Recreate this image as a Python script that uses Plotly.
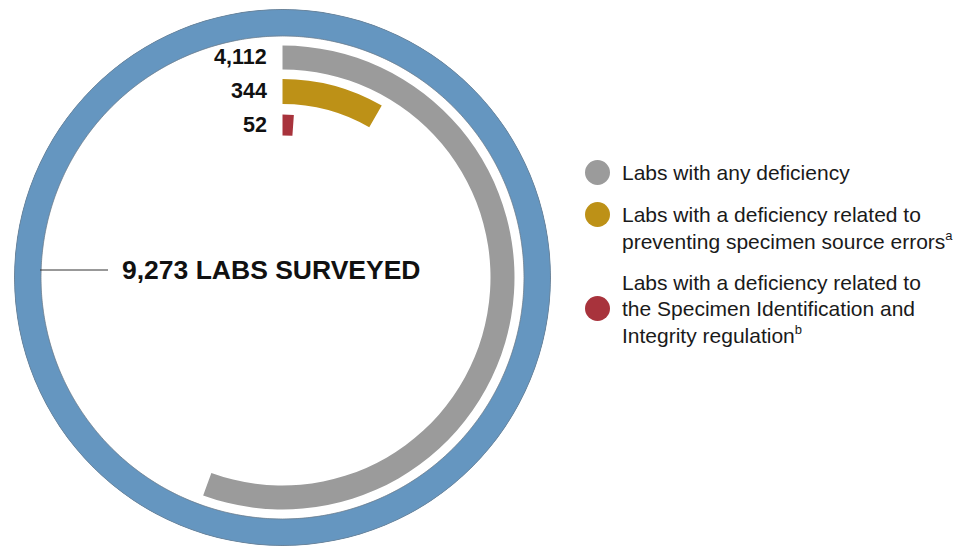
import numpy as np
import plotly.graph_objects as go

# ---- data ----
total_labs = 9273
total_label = "9,273 LABS SURVEYED"
series_names = [
    "Labs with any deficiency",
    "Labs with a deficiency related to preventing specimen source errors",
    "Labs with a deficiency related to the Specimen Identification and Integrity regulation",
]
series_values = [4112, 344, 52]
value_labels = ["4,112", "344", "52"]
# arc extent of each ring as drawn in the picture (degrees, clockwise from 12 o'clock)
arc_degrees = [200, 30, 4]
legend_lines = [
    ["Labs with any deficiency"],
    ["Labs with a deficiency related to",
     "preventing specimen source errors<sup><span style='font-size:13px'>a</span></sup>"],
    ["Labs with a deficiency related to", "the Specimen Identification and",
     "Integrity regulation<sup><span style='font-size:13px'>b</span></sup>"],
]

# ---- styling / layout ----
W, H = 973, 546
BLUE = "#6596C0"
colors = ["#9B9B9B", "#BD9117", "#A8333C"]
FONT = "Liberation Sans, Arial, sans-serif"

cx, cy, R = 282.5, 277.5, 268.5          # pixel centre and radius of the polar area
ring_base = [208, 173.5, 142]             # inner radius of each arc (px units)
ring_thick = [24, 25, 21]
blue_base, blue_thick = 241.5, 27


def px(x):
    return x / W


def py(y):
    return 1 - y / H


fig = go.Figure()

# outer ring: all labs surveyed
fig.add_trace(go.Barpolar(
    r=[blue_thick], base=[blue_base], theta=[180], width=[360],
    marker=dict(color=BLUE, line=dict(width=0)),
    name=total_label, showlegend=False, hoverinfo="skip",
))
# thin outline of the outer ring
circle_theta = np.linspace(0, 360, 721)
for rr in (blue_base, blue_base + blue_thick - 0.5):
    fig.add_trace(go.Scatterpolar(
        r=np.full_like(circle_theta, rr), theta=circle_theta, mode="lines",
        line=dict(color="#6f7f8e", width=0.8), showlegend=False, hoverinfo="skip",
    ))

for name, val, deg, base, thick, col in zip(series_names, series_values, arc_degrees,
                                            ring_base, ring_thick, colors):
    fig.add_trace(go.Barpolar(
        r=[thick], base=[base], theta=[deg / 2], width=[deg],
        marker=dict(color=col, line=dict(width=0)),
        name=name, showlegend=False,
        hovertemplate=f"{name}: {val:,}<extra></extra>",
    ))

fig.update_layout(
    width=W, height=H,
    margin=dict(l=0, r=0, t=0, b=0),
    paper_bgcolor="white", plot_bgcolor="white",
    showlegend=False,
    polar=dict(
        domain=dict(x=[px(cx - R), px(cx + R)], y=[max(0, py(cy + R)), py(cy - R)]),
        bgcolor="rgba(0,0,0,0)",
        radialaxis=dict(visible=False, range=[0, R]),
        angularaxis=dict(visible=False, rotation=90, direction="clockwise"),
        hole=0,
    ),
)

annotations = []
shapes = []

# value labels beside the arc starts
for lab, base, thick in zip(value_labels, ring_base, ring_thick):
    annotations.append(dict(
        x=px(cx - 13.5), y=py(cy - (base + thick / 2)), xref="paper", yref="paper",
        xanchor="right", yanchor="middle", showarrow=False,
        text=f"<b>{lab}</b>", font=dict(family=FONT, size=21.5, color="#111111"),
    ))

# connector + total label
shapes.append(dict(type="line", xref="paper", yref="paper",
                   x0=px(40), x1=px(108), y0=py(270), y1=py(270),
                   line=dict(color="#333333", width=1)))
annotations.append(dict(
    x=px(120), y=py(270), xref="paper", yref="paper", xanchor="left", yanchor="middle",
    showarrow=False, text=f"<b>{total_label}</b>",
    font=dict(family=FONT, size=26.5, color="#111111"),
))

# manual legend
legend_first_y = [172.5, 214.5, 282.5]
line_step = 26
for lines, y0, col in zip(legend_lines, legend_first_y, colors):
    ncirc = y0 if len(lines) < 3 else y0 + line_step
    shapes.append(dict(type="circle", xref="paper", yref="paper",
                       x0=px(597.5 - 12.5), x1=px(597.5 + 12.5),
                       y0=py(ncirc + 12.5), y1=py(ncirc - 12.5),
                       fillcolor=col, line=dict(width=0)))
    for i, t in enumerate(lines):
        annotations.append(dict(
            x=px(620), y=py(y0 + i * line_step), xref="paper", yref="paper",
            xanchor="left", yanchor="middle", showarrow=False, text=t,
            font=dict(family=FONT, size=21, color="#1a1a1a"),
        ))

fig.update_layout(annotations=annotations, shapes=shapes)
fig.write_html("out.html", config={"displayModeBar": False},
               post_script="document.body.style.margin='0';")
